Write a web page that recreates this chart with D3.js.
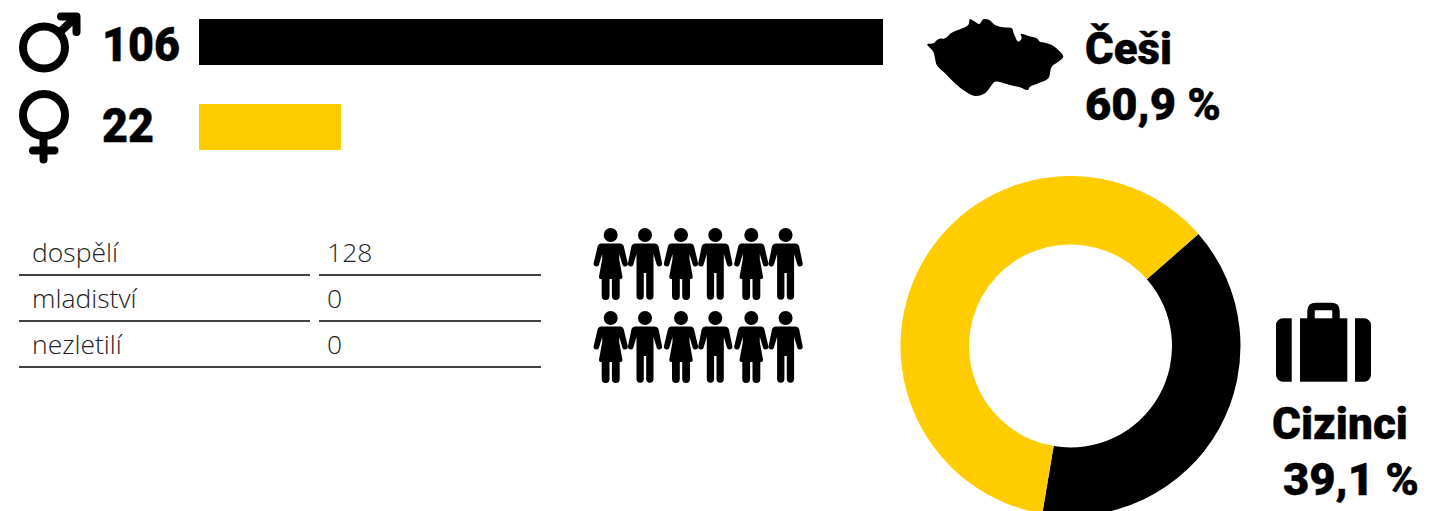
<!DOCTYPE html>
<html>
<head>
<meta charset="utf-8">
<script src="https://cdn.jsdelivr.net/npm/d3@7"></script>
<style>
  html, body { margin: 0; padding: 0; background: #fff; overflow: hidden; }
  svg { display: block; }
  .big { font-family: Roboto, "Liberation Sans", sans-serif; font-weight: 900; fill: #000; stroke: #000; stroke-width: 0.4px; }
  .row { font-family: "Open Sans", sans-serif; font-weight: 300; font-size: 26.5px; fill: #222; }
</style>
</head>
<body>
<div id="plot"></div>
<script>
var genders = ["muži", "ženy"],
    genderCounts = [106, 22];

var ageGroups = ["dospělí", "mladiství", "nezletilí"],
    ageCounts = [128, 0, 0];

var originNames = ["Cizinci", "Češi"],
    originShares = [39.1, 60.9],
    originLabels = ["39,1 %", "60,9 %"];

var people = ["f", "m", "f", "m", "f", "m", "f", "m", "f", "m", "f", "m"];

var black = "#000", yellow = "#ffcc00";

var svg = d3.select("#plot").append("svg")
    .attr("width", 1442)
    .attr("height", 511);

/*------------------------------------------*/
/*            Gender bars                   */
/*------------------------------------------*/

var x = d3.scaleLinear().domain([0, 106]).range([199, 883]);
var barY = d3.scalePoint().domain(genders).range([19, 104]);
var countY = d3.scalePoint().domain(genders).range([61, 142]);

svg.selectAll(".bar")
    .data(genders)
    .enter().append("rect")
    .attr("class", "bar")
    .attr("x", x(0))
    .attr("y", function(d) { return barY(d); })
    .attr("width", function(d, i) { return x(genderCounts[i]) - x(0); })
    .attr("height", 46)
    .style("fill", function(d, i) { return i === 0 ? black : yellow; });

svg.selectAll(".count")
    .data(genders)
    .enter().append("text")
    .attr("class", "big count")
    .attr("x", 102)
    .attr("y", function(d) { return countY(d); })
    .attr("textLength", function(d, i) { return i === 0 ? 78 : 52; })
    .attr("lengthAdjust", "spacingAndGlyphs")
    .style("font-size", "48px")
    .text(function(d, i) { return genderCounts[i]; });

// gender symbols
var sym = svg.append("g")
    .style("fill", "none")
    .style("stroke", black)
    .style("stroke-width", 8)
    .style("stroke-linecap", "round")
    .style("stroke-linejoin", "round");

sym.append("circle").attr("cx", 44).attr("cy", 47.5).attr("r", 21);
sym.append("path").attr("d", "M60 32L75 18M61 16.500H76.500V32");
sym.append("circle").attr("cx", 44).attr("cy", 115).attr("r", 21);
sym.append("path").attr("d", "M43.500 137V159.500M33 150.500H54.500");

/*------------------------------------------*/
/*            Age table                     */
/*------------------------------------------*/

var rowY = d3.scalePoint().domain(ageGroups).range([262, 354]);

svg.selectAll(".name")
    .data(ageGroups)
    .enter().append("text")
    .attr("class", "row name")
    .attr("x", 32)
    .attr("y", function(d) { return rowY(d); })
    .text(function(d) { return d; });

svg.selectAll(".value")
    .data(ageGroups)
    .enter().append("text")
    .attr("class", "row value")
    .attr("x", 327)
    .attr("y", function(d) { return rowY(d); })
    .text(function(d, i) { return ageCounts[i]; });

[[19, 310], [319, 541]].forEach(function(seg) {
  svg.selectAll(null)
      .data(ageGroups)
      .enter().append("line")
      .attr("x1", seg[0])
      .attr("x2", seg[1])
      .attr("y1", function(d) { return rowY(d) + 13; })
      .attr("y2", function(d) { return rowY(d) + 13; })
      .style("stroke", "#000")
      .style("stroke-width", 1.5);
});
svg.append("line")
    .attr("x1", 310).attr("x2", 319)
    .attr("y1", rowY("nezletilí") + 13).attr("y2", rowY("nezletilí") + 13)
    .style("stroke", "#000").style("stroke-width", 1.5);

/*------------------------------------------*/
/*            People pictogram              */
/*------------------------------------------*/

var womanBody = "M-10 8.500H10Q12 8.500 13 11L17 28A2.800 2.800 0 0 1 11.800 30L8.500 19V24L11.700 41.500Q12 44 10 44H9V61A3.300 3.300 0 0 1 1.200 61V44H-1.200V61A3.300 3.300 0 0 1 -9 61V44H-10Q-12 44 -11.700 41.500L-8.500 24V19L-11.800 30A2.800 2.800 0 0 1 -17 28L-13 11Q-12 8.500 -10 8.500Z";
var manBody = "M-10 8.500H10Q12.500 8.500 13.500 11L17 28A2.800 2.800 0 0 1 11.800 30L8.500 19V61A3.300 3.300 0 0 1 1.200 61V38H-1.200V61A3.300 3.300 0 0 1 -8.500 61V19L-11.800 30A2.800 2.800 0 0 1 -17 28L-13.500 11Q-12.500 8.500 -10 8.500Z";

var person = svg.selectAll(".person")
    .data(people)
    .enter().append("g")
    .attr("class", "person")
    .attr("transform", function(d, i) {
      var col = i % 6, row = Math.floor(i / 6);
      var px = 610.700 + Math.floor(col / 2) * 70.300 + (col % 2) * 34.300;
      return "translate(" + px + "," + (235 + row * 83) + ")";
    });

person.append("circle").attr("r", 7).style("fill", black);
person.append("path")
    .attr("d", function(d) { return d === "f" ? womanBody : manBody; })
    .style("fill", black);

/*------------------------------------------*/
/*            Origin donut                  */
/*------------------------------------------*/

var start = 48.800 * Math.PI / 180;

var pie = d3.pie().sort(null).startAngle(start).endAngle(start + 2 * Math.PI);
var arc = d3.arc().innerRadius(101.500).outerRadius(170);

svg.append("g")
    .attr("transform", "translate(1070.500,346)")
    .selectAll("path")
    .data(pie(originShares))
    .enter().append("path")
    .attr("d", arc)
    .style("fill", function(d, i) { return i === 0 ? black : yellow; });

var originText = [
  { t: originNames[1], x: 1085, y: 64, w: 87 },
  { t: originLabels[1], x: 1085, y: 120, w: 136 },
  { t: originNames[0], x: 1272, y: 439, w: 136 },
  { t: originLabels[0], x: 1283, y: 495, w: 136 }
];

svg.selectAll(".origin")
    .data(originText)
    .enter().append("text")
    .attr("class", "big origin")
    .attr("x", function(d) { return d.x; })
    .attr("y", function(d) { return d.y; })
    .attr("textLength", function(d) { return d.w; })
    .attr("lengthAdjust", "spacingAndGlyphs")
    .style("font-size", "45px")
    .text(function(d) { return d.t; });

// map of the republic
var mapPts = [[927.3,44.3],[933.3,43.3],[938.3,39.3],[945,38.3],[951.7,32.7],[960,29.3],[968.3,25],[970,19.3],[975,21.7],[979.3,24],[983.3,19.3],[989.3,20],[995,25],[1003.3,27.3],[1011.7,28.3],[1014,34],[1018.3,41.7],[1021.7,38.3],[1020.7,34],[1028.3,36],[1036.7,38.3],[1040,41.7],[1045,42.7],[1051.7,45],[1058.3,50],[1063.3,56.7],[1058.3,61.7],[1051.7,66.7],[1048.3,78.3],[1038.3,83.3],[1030,86.7],[1027.7,90],[1020,87.3],[1010,85],[995,81.7],[991.7,85],[985,93.3],[975,96],[963.3,90],[953.3,81.7],[945,73.3],[936.7,65],[935,58.3],[933.3,51.7]];

svg.append("path")
    .attr("d", d3.line().curve(d3.curveCatmullRomClosed.alpha(0.5))(mapPts))
    .style("fill", black);

// suitcase
var bag = svg.append("g").style("fill", black);
bag.append("path").attr("d", "M1291.700 318.300V381.700H1283A7 7 0 0 1 1276 374.700V325.300A7 7 0 0 1 1283 318.300Z");
bag.append("rect").attr("x", 1300).attr("y", 318.300).attr("width", 47.300).attr("height", 63.400);
bag.append("path").attr("d", "M1355 318.300H1364A7 7 0 0 1 1371 325.300V374.700A7 7 0 0 1 1364 381.700H1355Z");
bag.append("path")
    .attr("d", "M1311 319V311Q1311 306.500 1316 306.500H1331Q1336 306.500 1336 311V319")
    .style("fill", "none")
    .style("stroke", black)
    .style("stroke-width", 7.500);
</script>
</body>
</html>
